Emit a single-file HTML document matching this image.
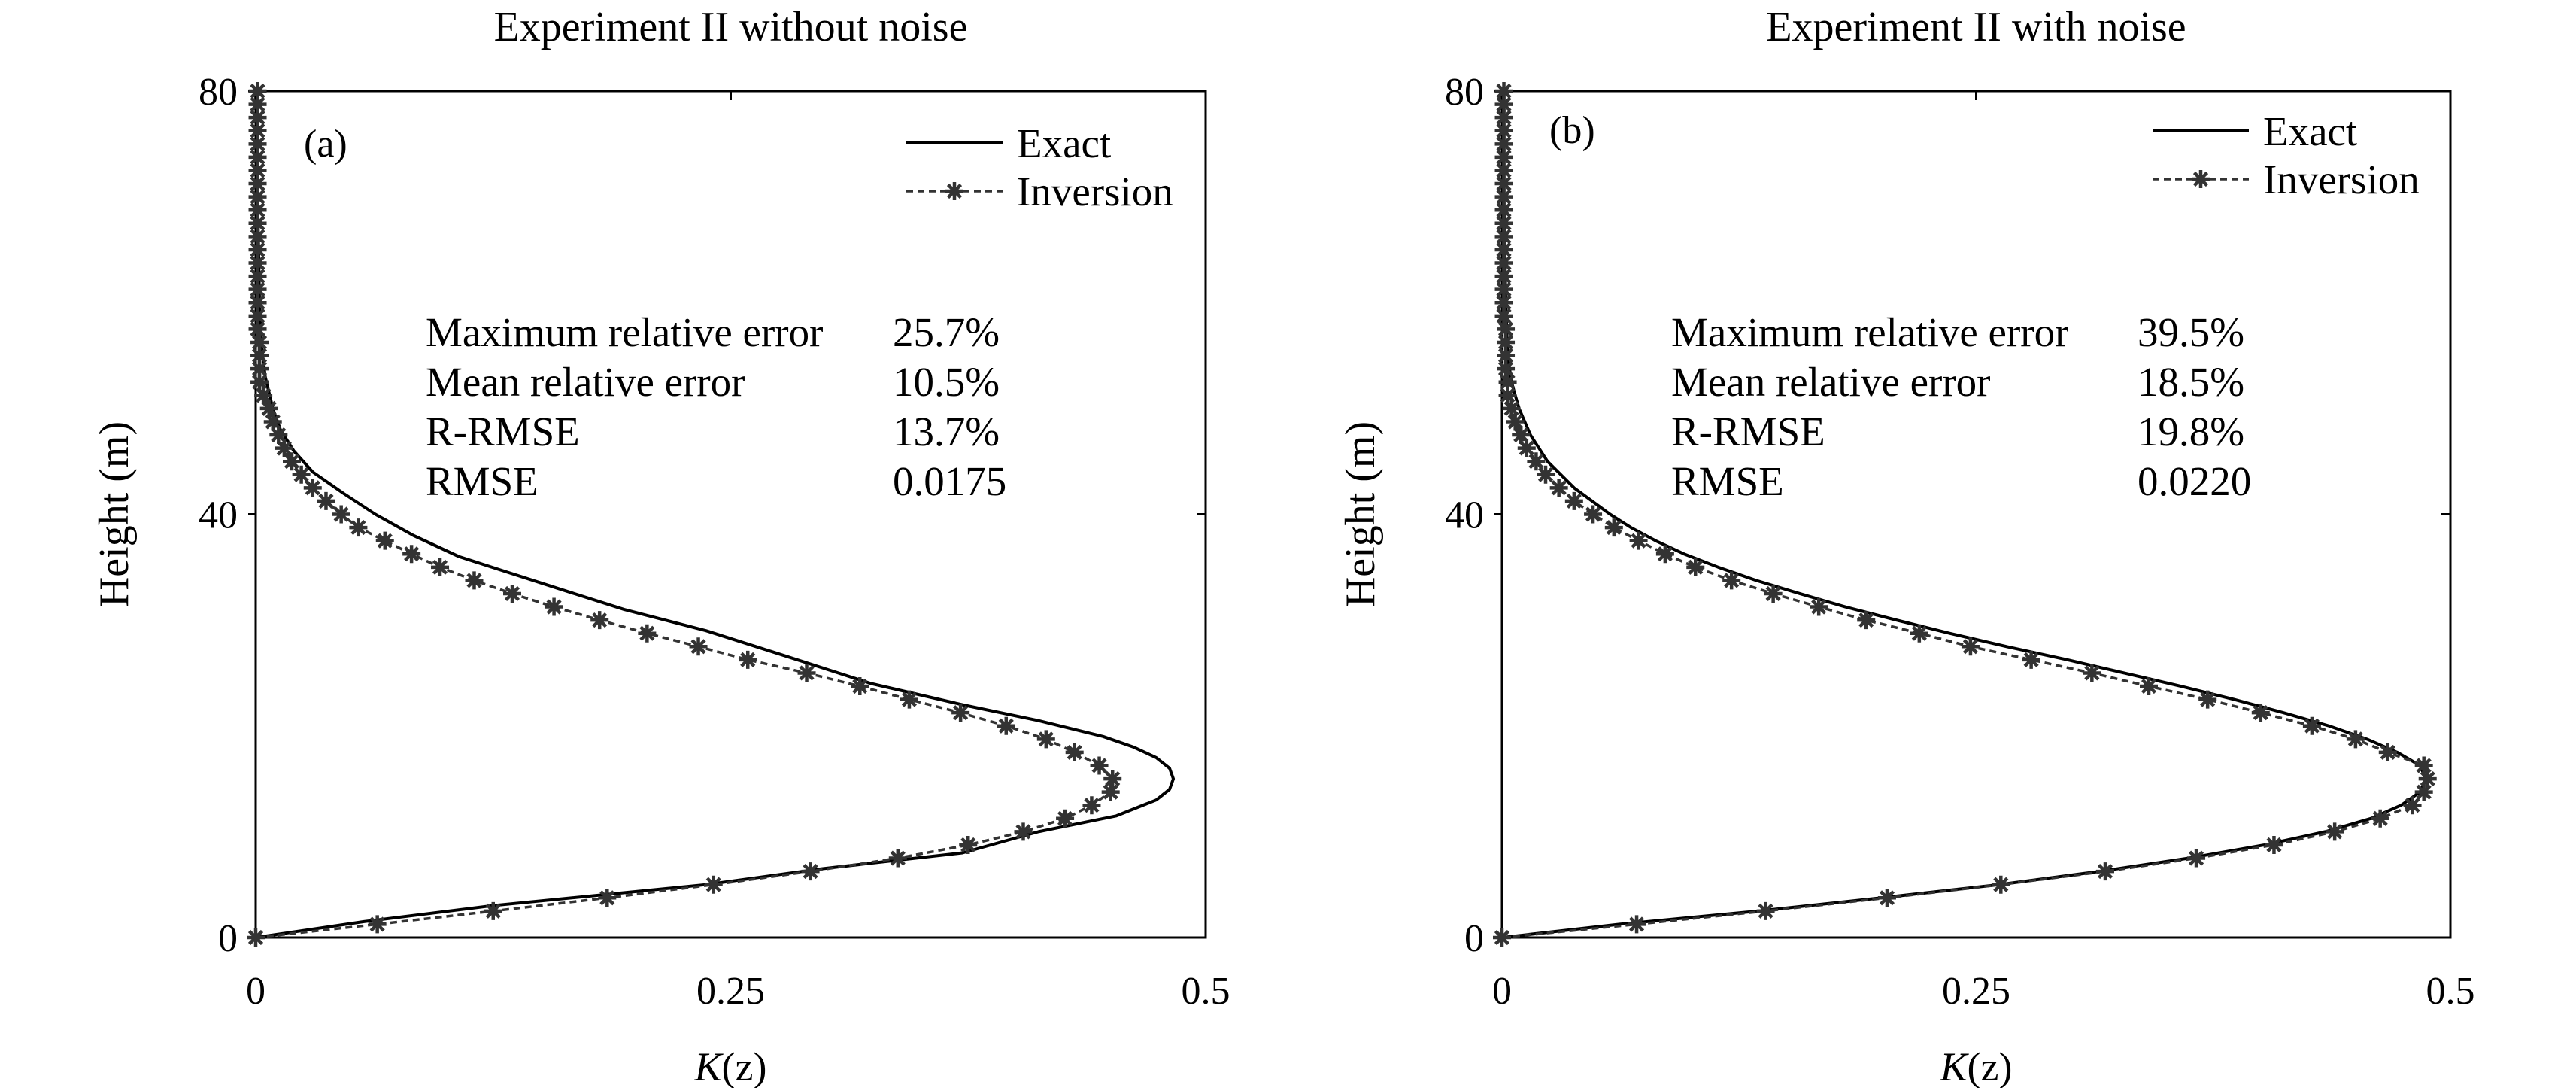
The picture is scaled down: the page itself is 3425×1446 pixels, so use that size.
<!DOCTYPE html>
<html><head><meta charset="utf-8"><style>
html,body{margin:0;padding:0;background:#fff;}
svg{display:block;font-family:"Liberation Serif",serif;}
</style></head><body>
<svg id="chart" width="3425" height="1446" viewBox="0 0 3425 1446" xmlns="http://www.w3.org/2000/svg"></svg>
<script>
const heightsExactA=[0,1.5,3,5,6.5,8,10,11.5,13,14,15,16,17,18,19,20.5,22,24,25.5,27,29,31,33,34.5,36,38,40,42,44,46,48,50,53,56,60,70,80];
const exactA=[0,0.057,0.124,0.237,0.298,0.372,0.412,0.453,0.474,0.481,0.483,0.481,0.474,0.462,0.446,0.412,0.372,0.324,0.298,0.272,0.237,0.194,0.159,0.133,0.107,0.083,0.063,0.046,0.030,0.020,0.013,0.009,0.005,0.003,0.002,0.001,0];
const inversionA=[0,0.064,0.125,0.185,0.241,0.292,0.338,0.375,0.404,0.426,0.440,0.450,0.451,0.444,0.431,0.416,0.395,0.371,0.344,0.318,0.290,0.259,0.233,0.206,0.181,0.157,0.135,0.115,0.097,0.082,0.068,0.054,0.045,0.037,0.030,0.024,0.019,0.015,0.012,0.009,0.007,0.004,0.002,0.002,0.002,0.002,0.001,0.001,0.001,0.001,0.001,0.001,0.001,0.001,0.001,0.001,0.001,0.001,0.001,0.001,0.001,0.001,0.001,0.001,0.001];
const heightsExactB=[0,1.25,2.5,3.75,5,6.25,7.5,8.75,10,11.25,12.5,13.75,15,16.25,17.5,18.75,20,21.25,22.5,23.75,25,26.25,27.5,28.75,30,31.25,32.5,33.75,35,36.25,37.5,38.75,40,42.5,45,47.5,50,52.5,55,60,70,80];
const exactB=[0,0.062,0.135,0.200,0.262,0.315,0.362,0.402,0.434,0.458,0.474,0.484,0.487,0.484,0.472,0.456,0.436,0.412,0.386,0.358,0.328,0.298,0.266,0.236,0.208,0.181,0.157,0.134,0.114,0.096,0.081,0.068,0.057,0.038,0.024,0.015,0.009,0.005,0.003,0.002,0.001,0];
const inversionB=[0,0.071,0.139,0.203,0.263,0.318,0.366,0.407,0.439,0.463,0.480,0.486,0.488,0.486,0.467,0.450,0.427,0.400,0.372,0.341,0.311,0.279,0.247,0.220,0.192,0.167,0.143,0.121,0.102,0.086,0.072,0.059,0.048,0.038,0.030,0.023,0.018,0.013,0.010,0.007,0.005,0.003,0.003,0.002,0.002,0.002,0.002,0.001,0.001,0.001,0.001,0.001,0.001,0.001,0.001,0.001,0.001,0.001,0.001,0.001,0.001,0.001,0.001,0.001,0.001];
const invStep=1.25;
const xTicks=[0,0.25,0.5];
const xTickLabels=["0","0.25","0.5"];
const yTicks=[0,40,80];
const yTickLabels=["0","40","80"];
const statLabels=["Maximum relative error","Mean relative error","R-RMSE","RMSE"];
const statsA=["25.7%","10.5%","13.7%","0.0175"];
const statsB=["39.5%","18.5%","19.8%","0.0220"];

const NS="http://www.w3.org/2000/svg";
const svg=document.getElementById('chart');
function mk(tag,attrs,parent,text){const e=document.createElementNS(NS,tag);for(const k in attrs)e.setAttribute(k,attrs[k]);if(text!==undefined)e.textContent=text;(parent||svg).appendChild(e);return e;}
function star(g,cx,cy){const r=12;let d="";for(let a=0;a<4;a++){const t=a*Math.PI/4;d+=`M${cx-r*Math.cos(t)},${cy-r*Math.sin(t)}L${cx+r*Math.cos(t)},${cy+r*Math.sin(t)}`;}
 const p=mk('path',{d:d,stroke:'#333',"stroke-width":4.5,fill:'none'},g);
 
 }

function panel(P){
 const g=mk('g',{});
 
 
 const X=v=>P.x0+(v/0.5)*(P.x1-P.x0);
 const Y=h=>P.y0-(h/80)*(P.y0-P.y1);
 const t=mk('text',{x:(P.x0+P.x1)/2,y:54,"text-anchor":"middle","font-size":56},g,P.title);
 
 const fr=mk('rect',{x:P.x0,y:P.y1,width:P.x1-P.x0,height:P.y0-P.y1,fill:'none',stroke:'#000',"stroke-width":3},g);
 
 xTicks.forEach((v,i)=>{
  mk('line',{x1:X(v),x2:X(v),y1:P.y1,y2:P.y1+12,stroke:'#000',"stroke-width":3},g);
  const l=mk('text',{x:X(v),y:1334,"text-anchor":"middle","font-size":52},g,xTickLabels[i]);
  
 });
 yTicks.forEach((v,i)=>{
  mk('line',{x1:P.x0-10,x2:P.x0,y1:Y(v),y2:Y(v),stroke:'#000',"stroke-width":3},g);
  mk('line',{x1:P.x1-12,x2:P.x1,y1:Y(v),y2:Y(v),stroke:'#000',"stroke-width":3},g);
  const l=mk('text',{x:P.x0-24,y:Y(v)+18,"text-anchor":"end","font-size":52},g,yTickLabels[i]);
  
 });
 const xt=mk('text',{x:(P.x0+P.x1)/2,y:1436,"text-anchor":"middle","font-size":54},g);
 
 mk('tspan',{"font-style":"italic"},xt,"K");mk('tspan',{},xt,"(z)");
 const yt=mk('text',{x:P.x0-170,y:(P.y0+P.y1)/2,"text-anchor":"middle","font-size":56,transform:`rotate(-90 ${P.x0-170} ${(P.y0+P.y1)/2})`},g,"Height (m)");
 
 let d="";P.exactH.forEach((h,i)=>{d+=(i?"L":"M")+X(P.exact[i])+","+Y(h);});
 const ex=mk('path',{d:d,fill:'none',stroke:'#000',"stroke-width":4,"stroke-linejoin":"round"},g);
 
 let d2="";P.inv.forEach((v,i)=>{d2+=(i?"L":"M")+X(v)+","+Y(i*invStep);});
 const iv=mk('path',{d:d2,fill:'none',stroke:'#333',"stroke-width":3.5,"stroke-dasharray":"9,6"},g);
 
 P.inv.forEach((v,i)=>star(g,X(v),Y(i*invStep)));
 const pl=mk('text',{x:P.lx,y:P.ly+18,"font-size":52},g,P.label);
 
 const lg=mk('g',{},g);
 mk('line',{x1:P.legX,x2:P.legX+128,y1:P.legY,y2:P.legY,stroke:'#000',"stroke-width":4},lg);
 mk('text',{x:P.legX+147,y:P.legY+19,"font-size":55},lg,"Exact");
 mk('line',{x1:P.legX,x2:P.legX+128,y1:P.legY+64,y2:P.legY+64,stroke:'#333',"stroke-width":3.5,"stroke-dasharray":"9,6"},lg);
 star(lg,P.legX+64,P.legY+64);
 mk('text',{x:P.legX+147,y:P.legY+83,"font-size":55},lg,"Inversion");
 statLabels.forEach((s,i)=>{
  const yy=P.sy+i*66;
  const a=mk('text',{x:P.sx,y:yy,"font-size":55},g,s);
  const b=mk('text',{x:P.vx,y:yy,"font-size":55},g,P.stats[i]);
 });
}
panel({name:'panel-a',title:'Experiment II without noise',x0:340,x1:1603,y0:1246,y1:121,exactH:heightsExactA,exact:exactA,inv:inversionA,label:'(a)',lx:404,ly:190,legX:1205,legY:190,sx:566,vx:1187,sy:460,stats:statsA});
panel({name:'panel-b',title:'Experiment II with noise',x0:1997,x1:3258,y0:1246,y1:121,exactH:heightsExactB,exact:exactB,inv:inversionB,label:'(b)',lx:2060,ly:172,legX:2862,legY:174,sx:2222,vx:2842,sy:460,stats:statsB});
</script>
</body></html>
